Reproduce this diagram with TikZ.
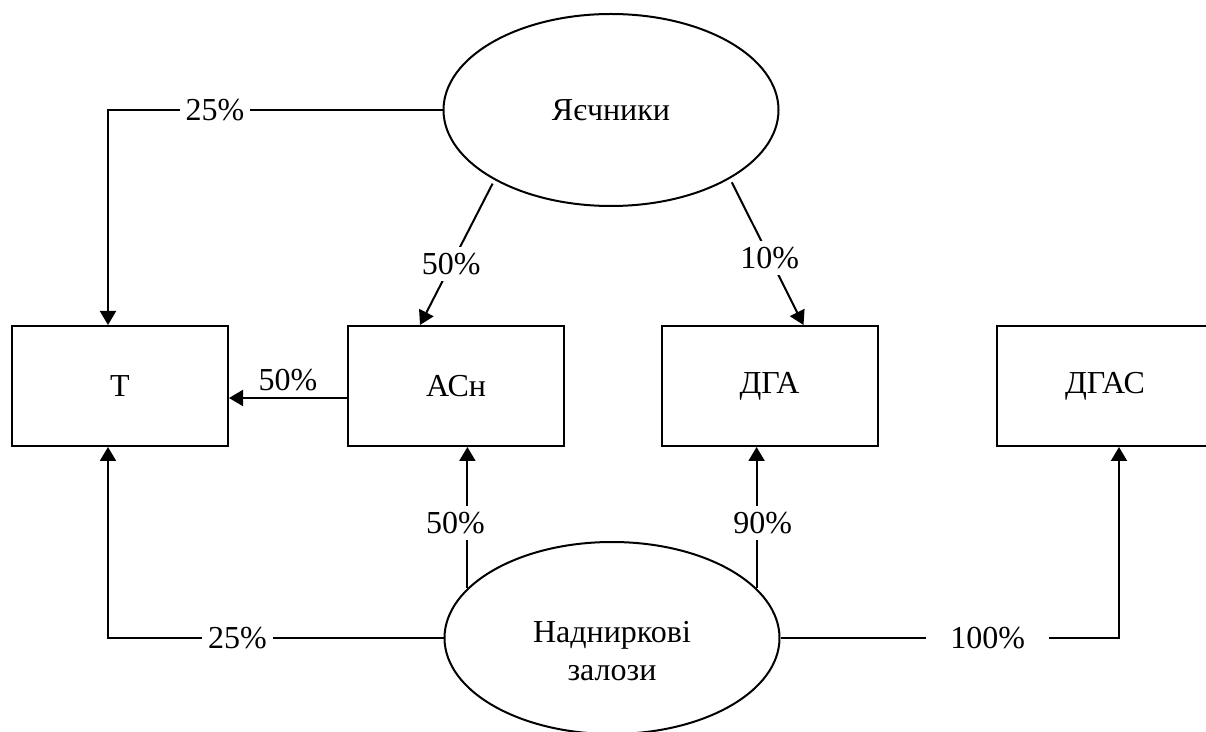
\documentclass[tikz,border=0pt]{standalone}
\usepackage{fontspec}
\setmainfont{Liberation Serif}
\usetikzlibrary{arrows.meta,shapes.geometric}
\tikzset{
  box/.style={draw, line width=1pt, minimum width=108pt, minimum height=60pt, inner sep=0pt},
  gland/.style={draw, ellipse, line width=1pt, minimum width=167.5pt, minimum height=96pt, inner sep=0pt, align=center},
  arr/.style={line width=1pt, -{Triangle[length=7pt,width=8pt]}},
  pct/.style={fill=white, inner sep=3pt}
}
\begin{document}
\begin{tikzpicture}[x=0.5pt,y=-0.5pt]
\useasboundingbox (0,0) rectangle (1206,732);
{\fontsize{16}{19}\selectfont

% Drawing glands
\node[gland] (ov) at (611,110) {Яєчники};%
\node[gland,text height=43pt] (ad) at (612,638) {Наднирковi\\залози};%

% Drawing boxes
\node[box] (T) at (120,386) {Т};%
\node[box] (AC) at (456,386) {АСн};%
\node[box] (DGA) at (769.5,386) {ДГА};%
\node[box] (DGAS) at (1105,386) {ДГАС};%

% Drawing lines from ov
\draw[arr] (ov.west) -| ([xshift=-6pt]T.north) node[pct,pos=0.34] {25\%};%
\draw[arr,shorten <=2pt] (ov.211) -- ([xshift=-18pt]AC.north) node[pct,pos=0.58] {50\%};%
\draw[arr,shorten <=2pt] (ov.330) -- ([xshift=17pt]DGA.north) node[pct,pos=0.54] {10\%};%

% Drawing line AC to T
\draw[arr] ([yshift=-6pt]AC.west) -- ([yshift=-6pt]T.east) node[midway,above,inner sep=3pt] {50\%};%

% Drawing lines from ad
\draw[arr] (ad.161) -- (ad.161 |- AC.south) node[pct,pos=0.46,xshift=-6pt] {50\%};%
\draw[arr] (ad.19) -- (ad.19 |- DGA.south) node[pct,pos=0.46,xshift=3pt] {90\%};%
\draw[arr] (ad.west) -| ([xshift=-6pt]T.south) node[pct,pos=0.307] {25\%};%
\draw[arr] (ad.east) -| ([xshift=7pt]DGAS.south) node[pct,pos=0.306,inner xsep=12pt] {100\%};%
}
\end{tikzpicture}
\end{document}
